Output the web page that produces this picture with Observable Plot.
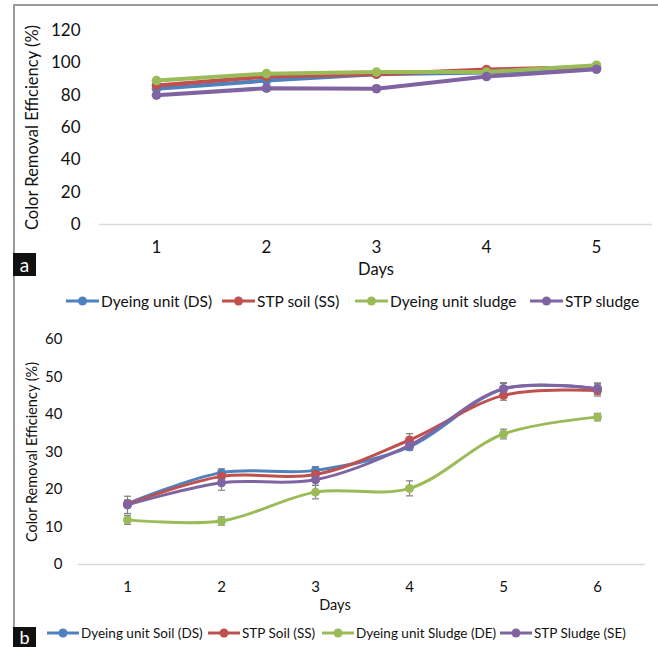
<!DOCTYPE html>
<html>
<head>
<meta charset="utf-8">
<script src="https://cdn.jsdelivr.net/npm/d3@7"></script>
<script src="https://cdn.jsdelivr.net/npm/@observablehq/plot@0.6"></script>
<style>
  html, body { margin: 0; padding: 0; background: #fff; }
  #wrap { position: relative; width: 658px; height: 647px; overflow: hidden; font-family: Lato, "Open Sans", sans-serif; }
  #wrap svg.plot { position: absolute; left: 0; }
  .frame { position: absolute; left: 13px; top: 4px; width: 645px; height: 650px; border-top: 2px solid #9a9a9a; border-left: 2px solid #9a9a9a; box-sizing: border-box; }
  .tag { position: absolute; left: 13px; width: 23px; background: #111; color: #fff; font-family: Lato, sans-serif; text-align: center; }
  .leg { position: absolute; display: flex; align-items: center; white-space: nowrap; color: #111; }
  .leg svg { display: block; }
</style>
</head>
<body>
<div id="wrap">
  <div class="frame"></div>
</div>
<script>
// ---------- Panel a data ----------
const daysA = [1, 2, 3, 4, 5];
const seriesA = ["Dyeing unit (DS)", "STP soil (SS)", "Dyeing unit sludge", "STP sludge"];
const dsA = [84, 89, 93, 94, 97];
const ssA = [86, 91.5, 93, 95.8, 97.5];
const deA = [89, 93.3, 94.3, 94.3, 98.5];
const seA = [80, 84.3, 84, 91.5, 96];
const errDsA = [1, 1, 1, 1, 1];
const errSsA = [1, 1, 1, 1, 1];
const errDeA = [1, 1, 1, 1, 1];
const errSeA = [2, 2, 2, 1.8, 1.5];
const yTicksA = [0, 20, 40, 60, 80, 100, 120];

// ---------- Panel b data ----------
const daysB = [1, 2, 3, 4, 5, 6];
const seriesB = ["Dyeing unit Soil (DS)", "STP Soil (SS)", "Dyeing unit Sludge (DE)", "STP Sludge (SE)"];
const dsB = [16.2, 24.5, 25.1, 31.4, 46.8, 46.8];
const ssB = [16.1, 23.5, 24.0, 33.2, 45.1, 46.4];
const deB = [11.9, 11.6, 19.3, 20.3, 34.8, 39.3];
const seB = [15.9, 21.8, 22.6, 31.8, 46.9, 46.9];
const errDsB = [1, 1, 1, 1, 1.5, 1.5];
const errSsB = [1, 1, 1, 1.7, 1.3, 1.5];
const errDeB = [1.2, 1.1, 1.8, 2.0, 1.3, 1.0];
const errSeB = [2.3, 2.0, 1.5, 1.2, 1.6, 1.5];
const yTicksB = [0, 10, 20, 30, 40, 50, 60];

const colors = ["#4F81BD", "#C0504D", "#9BBB59", "#8064A2"];
const yTitle = "Color Removal Efficiency (%)";
const xTitle = "Days";

function table(days, series, vals, errs) {
  const rows = [];
  series.forEach((s, k) => days.forEach((d, i) => rows.push({series: s, k, day: d, v: vals[k][i], lo: vals[k][i] - errs[k][i], hi: vals[k][i] + errs[k][i]})));
  return rows;
}
const capSymbol = { draw(ctx, size) { const r = Math.sqrt(size / Math.PI); ctx.moveTo(-r, 0); ctx.lineTo(r, 0); } };

function panel(cfg) {
  const rows = table(cfg.days, cfg.series, cfg.vals, cfg.errs);
  const marks = [
    Plot.ruleY([0], {stroke: "#d9d9d9", strokeWidth: 1.5}),
    Plot.axisY({ticks: cfg.yTicks, tickSize: 0, tickPadding: cfg.yPad, label: null, fontSize: cfg.tickFont, tickFormat: d => String(d)}),
    Plot.axisX({tickSize: 0, tickPadding: cfg.xPad, label: null, fontSize: cfg.tickFont}),
    Plot.ruleX(rows, {x: "day", y1: "lo", y2: "hi", stroke: "#808080", strokeWidth: 1.2}),
    Plot.dot(rows, {x: "day", y: "lo", symbol: capSymbol, r: 3.5, stroke: "#808080", strokeWidth: 1.2, fill: "none"}),
    Plot.dot(rows, {x: "day", y: "hi", symbol: capSymbol, r: 3.5, stroke: "#808080", strokeWidth: 1.2, fill: "none"})
  ];
  cfg.series.forEach((s, k) => {
    const sub = rows.filter(r => r.k === k);
    marks.push(Plot.line(sub, {x: "day", y: "v", stroke: colors[k], strokeWidth: cfg.lw, curve: cfg.curve}));
    marks.push(Plot.dot(sub, {x: "day", y: "v", fill: colors[k], r: cfg.r}));
  });
  marks.push(Plot.text([xTitle], {frameAnchor: "bottom", textAnchor: "middle", lineAnchor: "middle", dy: cfg.xtDy, dx: cfg.xtDx, fontSize: cfg.titleFont, fill: "#111"}));
  marks.push(Plot.text([yTitle], {frameAnchor: "left", textAnchor: "middle", lineAnchor: "middle", dx: cfg.ytDx, rotate: -90, fontSize: cfg.titleFont, fill: "#111"}));
  const svg = Plot.plot({
    width: 658, height: cfg.height,
    marginLeft: cfg.ml, marginRight: cfg.mr, marginTop: cfg.mt, marginBottom: cfg.mb,
    style: {fontFamily: "Lato, sans-serif", color: "#111", background: "transparent", overflow: "visible"},
    x: {type: "point", domain: cfg.days, padding: 0.5},
    y: {domain: [cfg.yTicks[0], cfg.yTicks[cfg.yTicks.length - 1]]},
    marks
  });
  svg.classList.add("plot");
  svg.style.top = cfg.top + "px";
  document.getElementById("wrap").appendChild(svg);
}

panel({days: daysA, series: seriesA, vals: [dsA, ssA, deA, seA], errs: [errDsA, errSsA, errDeA, errSeA], yTicks: yTicksA,
  top: 0, height: 285, ml: 99, mr: 6, mt: 30, mb: 61, yPad: 19, xPad: 16, tickFont: 17, titleFont: 16.5,
  lw: 4, r: 4.8, curve: "linear", xtDy: 45, xtDx: 0, ytDx: -67});
panel({days: daysB, series: seriesB, vals: [dsB, ssB, deB, seB], errs: [errDsB, errSsB, errDeB, errSeB], yTicks: yTicksB,
  top: 320, height: 300, ml: 78, mr: 13, mt: 19, mb: 56, yPad: 16, xPad: 17, tickFont: 15, titleFont: 14.5,
  lw: 3, r: 4.5, curve: "catmull-rom", xtDy: 41, xtDx: -27, ytDx: -46});

function legend(series, lefts, cy, fontSize, sw) {
  const wrap = document.getElementById("wrap");
  series.forEach((s, k) => {
    const d = document.createElement("div");
    d.className = "leg";
    d.style.left = lefts[k] + "px";
    d.style.top = (cy - 10) + "px";
    d.style.height = "20px";
    d.style.fontSize = fontSize + "px";
    d.innerHTML = `<svg width="${sw}" height="12"><line x1="0" x2="${sw}" y1="6" y2="6" stroke="${colors[k]}" stroke-width="3"/><circle cx="${sw/2}" cy="6" r="4.5" fill="${colors[k]}"/></svg><span style="margin-left:2px">${s}</span>`;
    wrap.appendChild(d);
  });
}
legend(seriesA, [66, 222, 355, 530], 301, 15.5, 33);
legend(seriesB, [47, 208, 322, 500], 633, 13.5, 32);

const tagA = document.createElement("div"); tagA.className = "tag";
tagA.style.top = "253px"; tagA.style.height = "23px"; tagA.style.lineHeight = "23px"; tagA.style.fontSize = "19px"; tagA.textContent = "a";
const tagB = document.createElement("div"); tagB.className = "tag";
tagB.style.top = "627px"; tagB.style.height = "20px"; tagB.style.lineHeight = "20px"; tagB.style.fontSize = "18px"; tagB.textContent = "b";
document.getElementById("wrap").append(tagA, tagB);
</script>
</body>
</html>
